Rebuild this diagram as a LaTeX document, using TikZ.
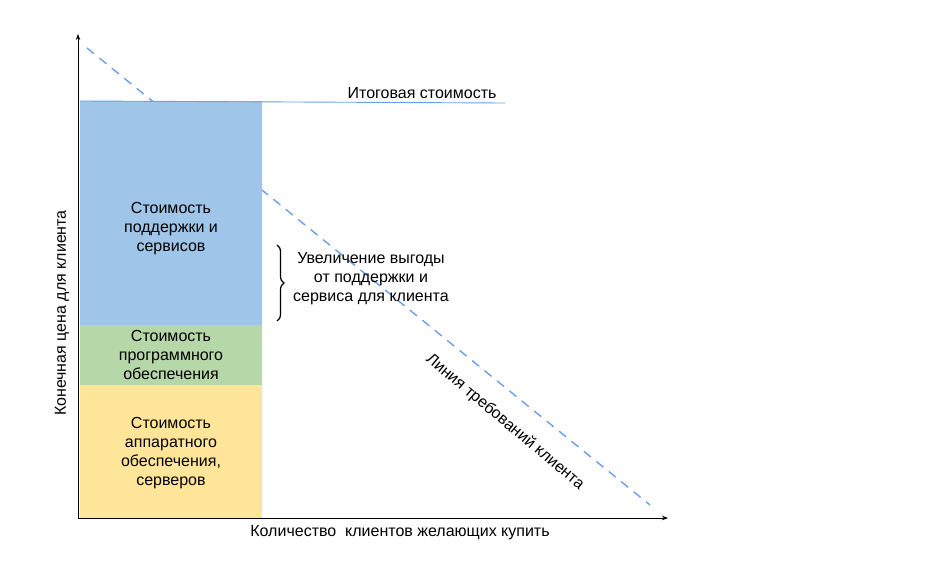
\documentclass[tikz,border=0pt]{standalone}
\usepackage{fontspec}
\setmainfont{Liberation Sans}
\usetikzlibrary{arrows.meta,decorations.pathreplacing}
\definecolor{cblue}{HTML}{9FC5E8}
\definecolor{cgreen}{HTML}{B6D7A8}
\definecolor{cyellow}{HTML}{FFE599}
\definecolor{cline}{HTML}{6D9EEB}
\tikzset{
  lbl/.style={font=\fontsize{16}{19}\selectfont, align=center, inner sep=0pt},
  bar/.style={draw=none, minimum width=182pt, inner sep=0pt, anchor=south west},
  axis/.style={line width=0.8pt, -{Stealth[length=6pt,width=4.5pt]}},
  demand/.style={cline, line width=1.4pt, dash pattern=on 9pt off 7pt},
}
\begin{document}
\begin{tikzpicture}[x=1pt,y=-1pt]
\useasboundingbox (0,0) rectangle (947,580);
% demand line behind boxes
\coordinate (d1) at (87,48);
\coordinate (d2) at (650,505);
\draw[demand] (d1) -- (d2);
% bars
\node[bar, fill=cyellow, minimum height=133pt] (hw) at (80,518) {};
\node[bar, fill=cgreen, minimum height=60pt] (sw) at (80,385) {};
\node[bar, fill=cblue, minimum height=224pt] (sv) at (80,325) {};
% total line
\coordinate (t1) at (80,101);
\coordinate (t2) at (505,103);
\draw[cline, line width=0.9pt] (t1) -- (t2);
\node[lbl, anchor=south] (ttl) at (422,99) {Итоговая стоимость};
% axes
\coordinate (o) at (78,518);
\coordinate (ytop) at (78,34);
\coordinate (xend) at (668,518);
\draw[axis] (o) -- (ytop);
\draw[axis] (o) -- (xend);
% bar labels
\node[lbl] (svt) at (171,229) {Стоимость\\поддержки и\\сервисов};
\node[lbl] (swt) at (171,355) {Стоимость\\программного\\обеспечения};
\node[lbl] (hwt) at (171,453) {Стоимость\\аппаратного\\обеспечения,\\серверов};
% brace
\coordinate (b1) at (277,245);
\coordinate (b2) at (277,321);
\draw[line width=1.2pt, decorate, decoration={brace, amplitude=7pt}] (b1) -- (b2);
\node[lbl] (gain) at (371,279) {Увеличение выгоды\\от поддержки и\\сервиса для клиента};
% rotated label
\node[lbl, rotate=-40] (dl) at (505,422) {Линия требований клиента};
% axis labels
\node[lbl] (xl) at (400,533) {Количество\ \ клиентов желающих купить};
\node[lbl, rotate=90] (yl) at (62,313) {Конечная цена для клиента};
\end{tikzpicture}
\end{document}
